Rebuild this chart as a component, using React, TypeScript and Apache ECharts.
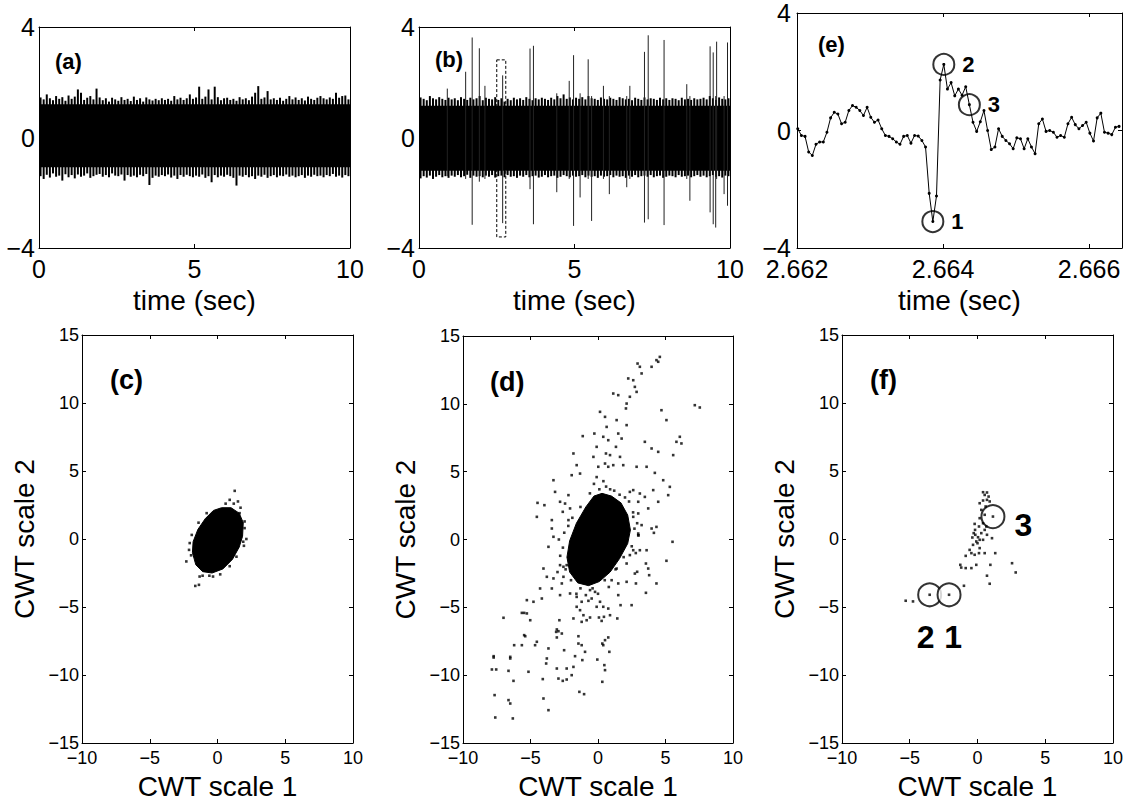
import React, { useEffect, useRef } from "react";
import * as echarts from "echarts";

const FONT = '"Liberation Sans", Arial, Helvetica, sans-serif';

// ---------------- DATA ----------------
// noise envelopes for (a) and (b): sampled every 0.1 s starting at 0.05 s
const noiseT0 = 0.05;
const noiseDt = 0.1;

const aHi = [
  1.45, 1.38, 1.56, 1.42, 1.35, 1.5, 1.4, 1.46, 1.33, 1.52,
  1.4, 1.48, 1.74, 1.62, 1.36, 1.44, 1.5, 1.38, 1.77, 1.45,
  1.35, 1.42, 1.3, 1.44, 1.38, 1.33, 1.46, 1.36, 1.4, 1.32,
  1.48, 1.36, 1.42, 1.3, 1.45, 1.38, 1.34, 1.4, 1.35, 1.42,
  1.36, 1.4, 1.33, 1.5, 1.38, 1.44, 1.36, 1.42, 1.56, 1.4,
  1.45, 1.84, 1.4, 1.48, 1.74, 1.38, 1.84, 1.46, 1.35, 1.42,
  1.44, 1.36, 1.4, 1.33, 1.46, 1.38, 1.42, 1.35, 1.48, 1.62,
  1.86, 1.4, 1.45, 1.68, 1.38, 1.42, 1.36, 1.44, 1.33, 1.4,
  1.5, 1.38, 1.45, 1.36, 1.42, 1.34, 1.48, 1.4, 1.36, 1.44,
  1.5, 1.42, 1.38, 1.45, 1.4, 1.62, 1.44, 1.5, 1.52, 1.38,
];
const aLo = [
  -1.4, -1.5, -1.35, -1.45, -1.3, -1.42, -1.38, -1.56, -1.33, -1.44,
  -1.36, -1.48, -1.34, -1.42, -1.38, -1.3, -1.46, -1.4, -1.35, -1.32,
  -1.42, -1.36, -1.44, -1.3, -1.38, -1.4, -1.34, -1.56, -1.36, -1.42,
  -1.38, -1.44, -1.35, -1.4, -1.32, -1.72, -1.46, -1.38, -1.42, -1.36,
  -1.4, -1.34, -1.45, -1.38, -1.5, -1.36, -1.42, -1.35, -1.4, -1.44,
  -1.38, -1.42, -1.34, -1.46, -1.4, -1.62, -1.36, -1.44, -1.38, -1.42,
  -1.35, -1.4, -1.46, -1.74, -1.38, -1.42, -1.36, -1.44, -1.4, -1.5,
  -1.38, -1.42, -1.35, -1.46, -1.4, -1.36, -1.44, -1.38, -1.4, -1.34,
  -1.42, -1.38, -1.44, -1.4, -1.36, -1.46, -1.38, -1.42, -1.35, -1.4,
  -1.38, -1.44, -1.36, -1.4, -1.32, -1.42, -1.38, -1.45, -1.36, -1.4,
];
const aCore = [-1.08, 1.2];

const bHi = [
  1.45, 1.4, 1.35, 1.5, 1.42, 1.38, 1.46, 1.4, 1.36, 1.44,
  1.38, 1.42, 1.35, 1.46, 1.4, 1.36, 1.44, 1.38, 1.42, 1.5,
  1.35, 1.44, 1.4, 1.38, 1.46, 1.36, 1.42, 1.3, 1.4, 1.35,
  1.44, 1.38, 1.42, 1.36, 1.46, 1.4, 1.35, 1.42, 1.38, 1.44,
  1.4, 1.36, 1.44, 1.38, 1.5, 1.42, 1.56, 1.4, 1.45, 1.38,
  1.44, 1.4, 1.46, 1.38, 1.5, 1.42, 1.4, 1.36, 1.45, 1.4,
  1.38, 1.44, 1.4, 1.36, 1.46, 1.42, 1.38, 1.4, 1.35, 1.44,
  1.4, 1.36, 1.45, 1.38, 1.42, 1.4, 1.36, 1.44, 1.38, 1.42,
  1.36, 1.42, 1.4, 1.35, 1.44, 1.38, 1.4, 1.36, 1.42, 1.38,
  1.4, 1.44, 1.38, 1.5, 1.42, 1.36, 1.45, 1.4, 1.38, 1.42,
];
const bLo = [
  -1.48, -1.4, -1.45, -1.38, -1.5, -1.42, -1.36, -1.44, -1.4, -1.46,
  -1.38, -1.42, -1.36, -1.44, -1.4, -1.35, -1.46, -1.38, -1.42, -1.4,
  -1.44, -1.38, -1.42, -1.36, -1.45, -1.4, -1.38, -1.44, -1.36, -1.42,
  -1.4, -1.46, -1.38, -1.42, -1.36, -1.44, -1.4, -1.38, -1.45, -1.42,
  -1.36, -1.44, -1.4, -1.38, -1.46, -1.42, -1.36, -1.4, -1.44, -1.38,
  -1.42, -1.4, -1.36, -1.44, -1.38, -1.42, -1.4, -1.46, -1.38, -1.42,
  -1.4, -1.36, -1.44, -1.38, -1.42, -1.4, -1.46, -1.38, -1.42, -1.36,
  -1.44, -1.4, -1.38, -1.42, -1.36, -1.44, -1.4, -1.38, -1.46, -1.42,
  -1.38, -1.4, -1.44, -1.36, -1.42, -1.4, -1.38, -1.44, -1.4, -1.36,
  -1.42, -1.38, -1.44, -1.4, -1.36, -1.42, -1.4, -1.45, -1.38, -1.4,
];
const bCore = [-1.2, 1.15];

// spikes in (b)
const bSpikeT = [0.91, 1.5, 1.71, 1.94, 2.12, 2.69, 3.57, 3.68, 4.43, 4.83, 4.97, 5.18, 5.44, 5.55, 5.93, 6.12, 6.68, 6.78, 7.25, 7.37, 7.88, 8.61, 8.71, 9.36, 9.46, 9.54, 9.57, 9.81, 9.92];
const bSpikeHi = [1.77, 2.38, 3.62, 3.23, 1.87, 2.25, 3.22, 3.32, 1.6, 2.05, 2.98, 1.6, 2.83, 1.5, 1.87, 1.5, 1.5, 1.87, 3.1, 3.7, 3.53, 1.93, 1.5, 3.3, 3.08, 1.5, 3.47, 1.5, 3.44];
const bSpikeLo = [-1.4, -1.5, -3.16, -1.6, -1.5, -3.1, -1.87, -3.14, -1.98, -1.5, -3.2, -2.17, -1.5, -3.02, -1.5, -2.05, -1.8, -1.5, -3.08, -2.96, -3.17, -1.5, -2.29, -2.71, -3.14, -3.26, -1.5, -2.05, -2.47];
// dashed selection box in (b): [t0, t1, yLow, yHigh]
const bBox = [2.5, 2.79, -3.6, 2.81];

// (e) zoomed waveform, samples every 0.05 ms starting at 2662.01 ms
const eT0 = 2662.01;
const eDt = 0.05;
const eY = [
  0.06, -0.17, -0.2, -0.73, -0.85, -0.47, -0.39, -0.39, -0.06, 0.43,
  0.62, 0.56, 0.23, 0.28, 0.68, 0.85, 0.79, 0.68, 0.51, 0.79,
  0.45, 0.28, 0.36, 0.06, -0.17, -0.2, -0.28, -0.39, -0.47, -0.2,
  -0.17, -0.43, -0.17, -0.19, -0.34, -0.56, -2.14, -3.1, -2.23, 1.72,
  2.25, 1.41, 1.63, 1.18, 1.41, 1.2, 1.49, 0.88, 0.28, -0.03,
  0.3, 0.68, 0.0, -0.65, -0.56, 0.06, -0.2, -0.34, -0.45, -0.62,
  -0.25, -0.28, -0.62, -0.28, -0.56, -0.79, 0.23, 0.39, -0.03, 0.0,
  -0.06, -0.23, -0.17, -0.23, 0.23, 0.45, 0.2, 0.06, 0.17, 0.28,
  -0.09, -0.36, 0.43, 0.59, -0.06, -0.09, -0.14, 0.11, 0.14,
];
const eMarkIdx = [37, 40, 47];
const eMarkLabels = ["1", "2", "3"];

// (c) dense cluster outline and stray points
const cBlob: [number, number][] = [
  [0.3, 2.3], [1.0, 2.3], [1.6, 1.9], [1.9, 1.2], [1.85, 0.2], [1.6, -0.6], [1.1, -1.5], [0.4, -2.2],
  [-0.4, -2.5], [-1.1, -2.4], [-1.6, -1.9], [-1.85, -1.0], [-1.8, -0.2], [-1.45, 0.7], [-0.9, 1.5], [-0.3, 2.1],
];
const cPts: [number, number][] = [
  [1.27, 3.54], [-1.64, -3.45], [-1.37, -3.37], [-2.3, -1.65], [-2.05, -0.3], [2.0, 1.29], [0.9, 2.88],
  [1.51, 2.76], [-1.32, -2.76], [-0.33, -2.76], [2.13, 0.0], [1.63, 1.9], [1.95, -0.5], [2.0, 0.8],
  [-1.95, -1.2], [-1.1, -2.7], [0.2, -2.6], [1.4, -1.3], [-0.8, 1.9], [-2.1, -0.8], [1.7, 2.3], [0.6, 2.6],
  [1.2, 2.6], [-1.9, 0.3], [-1.4, 1.2], [0.9, -2.0], [-0.6, -2.7], [1.9, -0.2],
];

// (d) dense cluster outline and stray points
const dBlob: [number, number][] = [
  [0.3, 3.4], [1.0, 3.2], [1.7, 2.7], [2.2, 1.8], [2.4, 0.7], [2.2, -0.3], [1.6, -1.4], [0.9, -2.4],
  [0.1, -3.1], [-0.7, -3.4], [-1.5, -3.2], [-2.1, -2.4], [-2.3, -1.3], [-2.1, -0.1], [-1.6, 1.2],
  [-0.9, 2.4], [-0.3, 3.2],
];
const dPts: [number, number][] = [
  [-4.48, 2.7], [-3.97, 2.53], [-4.53, 1.67], [-3.3, 4.37], [-3.18, 3.51], [-3.42, 1.43], [-3.42, 0.81],
  [-2.81, 2.78], [-2.61, 2.04], [-2.44, 2.65], [-2.19, 3.27], [-2.19, 1.43], [-2.07, 2.29], [-1.82, 6.34],
  [-1.58, 5.48], [-1.95, 4.74], [-1.33, 4.86], [-1.13, 7.62], [-0.27, 7.81], [-0.34, 6.09], [-0.1, 6.83],
  [0.02, 5.36], [0.15, 9.41], [0.52, 9.04], [0.39, 7.57], [0.64, 8.3], [0.76, 7.32], [0.59, 6.34],
  [0.89, 6.22], [0.52, 5.6], [0.76, 5.36], [1.13, 10.76], [1.5, 10.64], [1.38, 8.8], [1.5, 7.81],
  [1.75, 7.44], [2.12, 8.43], [1.33, 6.83], [1.63, 6.09], [1.13, 5.48], [1.87, 5.48], [2.12, 10.02],
  [2.07, 9.66], [2.36, 10.52], [2.24, 11.87], [2.61, 11.74], [2.93, 12.97], [3.1, 12.73], [3.23, 12.24],
  [2.73, 11.25], [2.86, 10.88], [3.97, 12.73], [4.33, 13.22], [4.58, 13.46], [4.46, 13.1], [4.7, 9.53],
  [5.07, 8.8], [3.47, 7.2], [3.97, 6.71], [4.46, 6.46], [2.86, 5.36], [3.6, 5.36], [4.21, 4.91],
  [6.06, 7.57], [5.81, 7.2], [6.18, 7.08], [5.57, 6.22], [7.17, 9.9], [7.54, 9.73], [4.83, 4.37],
  [5.32, 3.88], [5.2, 3.27], [4.46, 2.78], [3.72, 2.29], [3.1, 3.39], [2.61, 3.64], [2.36, 3.51],
  [2.98, 2.78], [3.47, 3.14], [4.09, 3.64], [2.98, 1.92], [3.23, 1.06], [3.97, 0.81], [4.33, 0.93],
  [5.52, -0.17], [2.61, 1.67], [2.98, 0.44],
  [-3.3, 0.2], [-3.67, -0.54], [-4.04, -2.14], [-3.79, -2.75], [-4.29, -3.61], [-4.16, -4.35], [-5.27, -4.47],
  [-4.78, -4.59], [-5.64, -5.41], [-5.47, -5.41], [-5.27, -5.45], [-5.02, -5.95], [-7.0, -5.77], [-5.47, -7.05],
  [-5.39, -7.13], [-6.21, -7.79], [-5.64, -7.79], [-4.53, -7.54], [-4.66, -7.79], [-7.73, -8.6], [-7.73, -8.7],
  [-6.5, -8.65], [-6.5, -8.77], [-7.86, -9.58], [-7.54, -9.58], [-6.63, -9.68], [-6.26, -10.42], [-5.15, -9.75],
  [-7.66, -11.47], [-6.63, -11.84], [-6.5, -12.09], [-7.61, -13.12], [-6.31, -13.19], [-4.09, -10.29],
  [-4.04, -11.72], [-3.67, -12.58], [-3.67, -8.03], [-3.79, -8.77], [-3.84, -9.14], [-3.05, -6.63],
  [-3.1, -6.81], [-2.93, -6.76], [-2.68, -6.93], [-3.05, -7.22], [-2.86, -5.95], [-3.05, -9.51],
  [-2.93, -10.25], [-2.61, -10.42], [-2.32, -10.32], [-2.32, -9.51], [-2.51, -8.16], [-1.95, -10.0],
  [-1.82, -9.39], [-1.7, -8.6], [-1.45, -7.67], [-1.38, -11.23], [-1.03, -11.4], [-1.16, -8.89],
  [-0.96, -8.28], [-1.21, -7.79], [-1.45, -7.13], [-1.82, -5.82], [-1.58, -4.96], [-1.33, -5.21],
  [-1.08, -5.58], [-0.84, -5.95], [-0.59, -5.75], [-1.21, -6.07], [-1.58, -4.23], [-1.21, -4.59],
  [-0.71, -4.52], [-0.47, -4.35], [-0.1, -4.96], [0.07, -5.75], [-0.05, -8.85], [0.32, -7.67],
  [0.39, -7.79], [0.52, -7.42], [0.76, -7.22], [0.84, -8.28], [0.32, -10.49], [0.47, -9.26],
  [0.52, -9.63], [0.27, -6.0], [0.44, -5.7], [0.89, -5.58], [1.43, -5.82], [0.39, -4.96], [0.76, -5.09],
  [-0.59, -3.73], [-0.22, -3.86], [0.15, -4.59], [1.5, -4.1], [1.67, -4.84], [2.49, -4.84], [2.12, -3.12],
  [1.5, -3.24], [2.73, -2.51], [2.81, -3.24], [2.9, -2.38], [3.55, -1.77], [3.72, -2.14], [3.79, -2.63],
  [3.55, -3.93], [4.33, -3.24], [5.07, -1.57], [2.12, -1.77], [2.61, -0.79], [3.1, -0.79], [3.6, -0.79],
  [2.36, -1.15], [2.98, 0.32], [4.14, 0.49], [1.38, -2.14], [1.01, -3.0], [-2.81, -1.89], [-2.56, -2.01],
  [-2.32, -1.89], [-2.56, -2.75], [-2.68, -3.24], [-2.81, -4.1], [-3.3, -2.87], [-3.42, -3.61], [-2.07, -3.98],
  [-2.5, 0.5], [-2.6, -0.6], [-2.4, -2.2], [-2.0, -3.0], [-1.3, -3.6], [-0.4, -3.6], [0.5, -3.0],
  [1.3, -2.2], [1.9, -1.3], [2.5, -0.5], [2.7, 0.8], [2.6, 2.0], [2.3, 2.8], [1.6, 3.3], [0.9, 3.7],
  [0.1, 3.7], [-0.6, 3.4], [-1.3, 2.4], [-1.9, 1.6], [-2.2, 1.0], [-0.3, 4.1], [0.4, 4.3], [-0.1, 4.6],
  [0.6, 3.9], [1.2, 3.6], [2.0, 3.1], [2.9, 1.2], [3.0, 0.3], [2.8, -1.0], [-2.9, 0.0], [-2.8, -1.2],
  [-3.0, -2.4], [-1.6, -4.0], [-0.9, -4.1], [0.0, -4.0], [0.8, -3.5],
];

// (f) points of the single spike in CWT space
const fPts: [number, number][] = [
  [-5.3, -4.54], [-4.76, -4.59], [-3.53, -4.1], [-2.1, -4.1], [-1.0, -3.44], [0.9, -3.29], [0.7, -2.7],
  [2.82, -2.46], [2.55, -1.78], [1.31, -1.04], [0.95, -1.9], [-1.27, -1.9], [-1.2, -2.1], [-0.87, -2.14],
  [-0.45, -2.14], [-0.09, -1.9], [-0.87, -1.24], [-0.58, -0.8], [-0.45, -1.04], [-0.21, -1.16], [0.11, -1.04],
  [0.16, -0.67], [0.53, -1.04], [-0.33, -0.43], [-0.09, -0.18], [0.04, 0.13], [0.28, 0.43], [-0.28, 0.43],
  [-0.38, 0.11], [0.16, -0.06], [0.41, -0.06], [0.7, 0.31], [1.07, 0.06], [0.53, 0.67], [0.11, 0.92],
  [-0.21, 1.11], [0.16, 1.53], [0.53, 1.78], [0.28, 2.14], [0.6, 2.39], [0.16, 2.63], [0.41, 2.83],
  [0.7, 2.88], [0.53, 3.24], [0.41, 3.44], [0.7, 3.42], [0.82, 3.12], [0.9, 2.76], [1.14, 1.65],
  [0.0, -0.31], [-0.16, 0.31], [-0.18, 0.67], [0.41, 1.16], [0.65, 0.92],
];
const fMarks: [number, number][] = [[-3.53, -4.1], [-2.1, -4.1], [1.14, 1.65]];
const fMarkLabels = ["2", "1", "3"];

// tick settings
const timeTicks = { min: 0, max: 10, interval: 5 };
const ampTicks = { min: -4, max: 4, interval: 4 };
const eTicks = { min: 2662, max: 2666.45, interval: 2 };
const cwtX = { min: -10, max: 10, interval: 5 };
const cwtY = { min: -15, max: 15, interval: 5 };

// ---------------- HELPERS ----------------
const fmtNum = (v: number) => (v < 0 ? "\u2212" + String(Math.abs(v)) : String(v));
const fmtE = (v: number) => {
  const k = Math.round(v / 2);
  if (Math.abs(v - k * 2) > 1e-6) return "";
  return ((k * 2) / 1000).toFixed(3);
};

const axisLine = { show: true, onZero: false, lineStyle: { color: "#000", width: 1 } };
const axisTick = { show: true, inside: true, length: 4, lineStyle: { color: "#000", width: 1 } };

function xPair(gi: number, t: any, fs: number, margin: number, name: string, nameGap: number, fmt: any) {
  return [
    {
      gridIndex: gi, type: "value", position: "bottom", ...t,
      axisLine, axisTick, splitLine: { show: false },
      axisLabel: { show: true, fontSize: fs, color: "#000", fontFamily: FONT, margin, formatter: fmt, hideOverlap: false },
      name, nameLocation: "middle", nameGap,
      nameTextStyle: { fontSize: 28, color: "#000", fontFamily: FONT },
    },
    {
      gridIndex: gi, type: "value", position: "top", ...t,
      axisLine, axisTick, splitLine: { show: false }, axisLabel: { show: false },
    },
  ];
}
function yPair(gi: number, t: any, fs: number, margin: number, name: string, nameGap: number) {
  return [
    {
      gridIndex: gi, type: "value", position: "left", ...t,
      axisLine, axisTick, splitLine: { show: false },
      axisLabel: { show: true, fontSize: fs, color: "#000", fontFamily: FONT, margin, formatter: fmtNum, hideOverlap: false },
      name, nameLocation: "middle", nameGap, nameRotate: 90,
      nameTextStyle: { fontSize: 28, color: "#000", fontFamily: FONT },
    },
    {
      gridIndex: gi, type: "value", position: "right", ...t,
      axisLine, axisTick, splitLine: { show: false }, axisLabel: { show: false },
    },
  ];
}

const vLineItem = (lw: number, color: string) => (params: any, api: any) => {
  const t = api.value(0);
  const p1 = api.coord([t, api.value(1)]);
  const p2 = api.coord([t, api.value(2)]);
  return {
    type: "line",
    shape: { x1: p1[0], y1: p1[1], x2: p2[0], y2: p2[1] },
    style: { stroke: color, lineWidth: lw },
  };
};
const rectItem = (fill: string, stroke: string | null, dash: number[] | null) => (params: any, api: any) => {
  const p1 = api.coord([api.value(0), api.value(3)]);
  const p2 = api.coord([api.value(1), api.value(2)]);
  return {
    type: "rect",
    shape: { x: p1[0], y: p1[1], width: p2[0] - p1[0], height: p2[1] - p1[1] },
    style: { fill, stroke: stroke || undefined, lineWidth: 1, lineDash: dash || undefined },
  };
};
const polyItem = (pts: [number, number][]) => (params: any, api: any) => ({
  type: "polygon",
  shape: { points: pts.map((p) => api.coord(p)) },
  style: { fill: "#000", stroke: "#000", lineWidth: 1 },
});

const markLabel = {
  show: true, color: "#000", fontFamily: FONT, fontWeight: "bold",
  textBorderWidth: 0, textShadowBlur: 0, opacity: 1,
};

function buildOption() {
  const grids = [
    { left: 39, top: 27, width: 311, height: 221 }, // a
    { left: 419, top: 27, width: 311, height: 221 }, // b
    { left: 797, top: 13, width: 325, height: 235 }, // e
    { left: 82, top: 335, width: 271, height: 408 }, // c
    { left: 463, top: 336, width: 270, height: 407 }, // d
    { left: 842, top: 335, width: 271, height: 408 }, // f
  ];
  const xAxis = [
    ...xPair(0, timeTicks, 25, 8, "time (sec)", 38, fmtNum),
    ...xPair(1, timeTicks, 25, 8, "time (sec)", 38, fmtNum),
    ...xPair(2, eTicks, 25, 8, "time (sec)", 38, fmtE),
    ...xPair(3, cwtX, 18, 6, "CWT scale 1", 29, fmtNum),
    ...xPair(4, cwtX, 18, 6, "CWT scale 1", 29, fmtNum),
    ...xPair(5, cwtX, 18, 6, "CWT scale 1", 29, fmtNum),
  ];
  const yAxis = [
    ...yPair(0, ampTicks, 25, 4, "", 0),
    ...yPair(1, ampTicks, 25, 4, "", 0),
    ...yPair(2, ampTicks, 25, 6, "", 0),
    ...yPair(3, cwtY, 18, 3, "CWT scale 2", 44),
    ...yPair(4, cwtY, 18, 3, "CWT scale 2", 44),
    ...yPair(5, cwtY, 18, 3, "CWT scale 2", 44),
  ];
  const ax = (gi: number) => ({ xAxisIndex: gi * 2, yAxisIndex: gi * 2 });

  const series: any[] = [
    // (a)
    { type: "custom", ...ax(0), renderItem: rectItem("#000", null, null), data: [[0, 10, aCore[0], aCore[1]]], silent: true },
    { type: "custom", ...ax(0), renderItem: vLineItem(2, "#000"), data: aHi.map((h, i) => [noiseT0 + i * noiseDt, aLo[i], h]), silent: true },
    // (b)
    { type: "custom", ...ax(1), renderItem: rectItem("#000", null, null), data: [[0, 10, bCore[0], bCore[1]]], silent: true },
    { type: "custom", ...ax(1), renderItem: vLineItem(2, "#000"), data: bHi.map((h, i) => [noiseT0 + i * noiseDt, bLo[i], h]), silent: true },
    { type: "custom", ...ax(1), renderItem: vLineItem(1, "#222"), data: bSpikeT.map((t, i) => [t, bSpikeLo[i], bSpikeHi[i]]), silent: true },
    { type: "custom", ...ax(1), renderItem: rectItem("none", "#000", [3, 2]), data: [bBox], silent: true },
    // (e)
    {
      type: "scatter", ...ax(2), data: eMarkIdx.map((i) => [eT0 + i * eDt, eY[i]]),
      symbol: "emptyCircle", symbolSize: 21,
      itemStyle: { color: "#000", borderColor: "#000", borderWidth: 1 },
      label: { ...markLabel, position: "right", distance: 7, fontSize: 22, formatter: (p: any) => eMarkLabels[p.dataIndex] },
      silent: true,
    },
    {
      type: "line", ...ax(2), data: eY.map((y, i) => [eT0 + i * eDt, y]),
      symbol: "circle", symbolSize: 3, showSymbol: true, showAllSymbol: true,
      itemStyle: { color: "#000" }, lineStyle: { color: "#000", width: 1 }, silent: true,
    },
    // (c)
    { type: "custom", ...ax(3), renderItem: polyItem(cBlob), data: [[0, 0]], silent: true },
    { type: "scatter", ...ax(3), data: cPts, symbol: "rect", symbolSize: 2.6, itemStyle: { color: "#000" }, silent: true },
    // (d)
    { type: "custom", ...ax(4), renderItem: polyItem(dBlob), data: [[0, 0]], silent: true },
    { type: "scatter", ...ax(4), data: dPts, symbol: "rect", symbolSize: 2.6, itemStyle: { color: "#000" }, silent: true },
    // (f)
    {
      type: "scatter", ...ax(5),
      data: fMarks.map((p, i) => ({
        value: p,
        label: i === 0
          ? { position: "bottom", distance: 14, offset: [-4, 0] }
          : i === 1
            ? { position: "bottom", distance: 14, offset: [4, 0] }
            : { position: "right", distance: 9, offset: [0, 8] },
      })),
      symbol: "emptyCircle", symbolSize: 23,
      itemStyle: { color: "#000", borderColor: "#000", borderWidth: 1 },
      label: { ...markLabel, fontSize: 32, formatter: (p: any) => fMarkLabels[p.dataIndex] },
      silent: true,
    },
    { type: "scatter", ...ax(5), data: fPts, symbol: "rect", symbolSize: 2.6, itemStyle: { color: "#000" }, silent: true },
  ];

  const titles = [
    { text: "(a)", left: 55, top: 50, size: 22 },
    { text: "(b)", left: 435, top: 48, size: 22 },
    { text: "(e)", left: 818, top: 33, size: 22 },
    { text: "(c)", left: 110, top: 366, size: 27 },
    { text: "(d)", left: 490, top: 368, size: 27 },
    { text: "(f)", left: 870, top: 366, size: 27 },
  ];

  return {
    animation: false,
    backgroundColor: "#fff",
    grid: grids,
    xAxis,
    yAxis,
    series,
    graphic: titles.map((t) => ({
      type: "text", left: t.left, top: t.top, silent: true,
      style: { text: t.text, fill: "#000", font: `bold ${t.size}px ${FONT}` },
    })),
  };
}

export default function App() {
  const ref = useRef<HTMLDivElement>(null);
  useEffect(() => {
    if (!ref.current) return;
    const chart = echarts.init(ref.current, undefined, { renderer: "svg" });
    chart.setOption(buildOption() as any);
    return () => chart.dispose();
  }, []);
  return (
    <div
      ref={ref}
      style={{ position: "fixed", left: 0, top: 0, width: 1126, height: 808, background: "#fff" }}
    />
  );
}
